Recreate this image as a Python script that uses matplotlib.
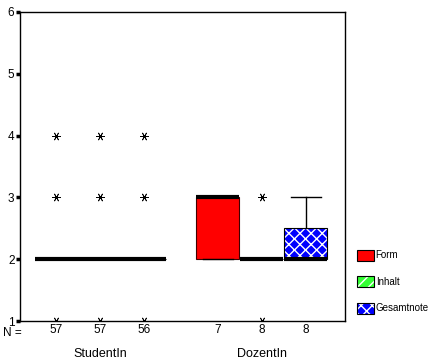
import matplotlib
matplotlib.use("Agg")
import matplotlib.pyplot as plt
from matplotlib.patches import Patch, PathPatch
from matplotlib.transforms import blended_transform_factory

plt.rcParams['font.family'] = ['Liberation Sans', 'DejaVu Sans']
plt.rcParams['hatch.linewidth'] = 1.0

gruppen = ["StudentIn", "DozentIn"]
variablen = ["Form", "Inhalt", "Gesamtnote"]
farben = ["#ff0000", "#33ff33", "#0000ff"]
muster = [None, "///", "xxx"]

# Kennwerte je Box: Gruppe x Variable
n_werte = [[57, 57, 56], [7, 8, 8]]
q1 = [[2, 2, 2], [2, 2, 2]]
median = [[2, 2, 2], [3, 2, 2]]
q3 = [[2, 2, 2], [3, 2, 2.5]]
whisker_lo = [[2, 2, 2], [2, 2, 2]]
whisker_hi = [[2, 2, 2], [3, 2, 3]]
extremwerte = [[[1, 3, 4], [1, 3, 4], [1, 3, 4]], [[], [1, 3], []]]

gruppen_mitte = [0, 3.68]
versatz = [-1, 0, 1]

fig = plt.figure(figsize=(4.32, 3.64), dpi=100)
ax = fig.add_axes([20 / 432, 1 - 321 / 364, 325 / 432, 309 / 364])

stats, positionen, n_labels = [], [], []
for g in range(len(gruppen)):
    for v in range(len(variablen)):
        stats.append(dict(med=median[g][v], q1=q1[g][v], q3=q3[g][v],
                          whislo=whisker_lo[g][v], whishi=whisker_hi[g][v],
                          fliers=extremwerte[g][v]))
        positionen.append(gruppen_mitte[g] + versatz[v])
        n_labels.append(str(n_werte[g][v]))

bp = ax.bxp(stats, positions=positionen, widths=0.98, patch_artist=True,
            showcaps=True,
            boxprops=dict(edgecolor="#400000", linewidth=0.8),
            medianprops=dict(color="black", linewidth=3, solid_capstyle="butt"),
            whiskerprops=dict(color="black", linewidth=1),
            capprops=dict(color="black", linewidth=1),
            capwidths=0.68,
            flierprops=dict(marker=(6, 2, 90), markersize=6,
                            markeredgecolor="black", markeredgewidth=0.6,
                            linestyle="none"))

for i, box in enumerate(bp["boxes"]):
    v = i % 3
    box.set_facecolor(farben[v])
    if muster[v]:
        box.set_hatch(muster[v])
        box.set_edgecolor("white")
        box.set_linewidth(0)
        ax.add_patch(PathPatch(box.get_path(), facecolor="none",
                               edgecolor="black", linewidth=0.8, zorder=2.1))

ax.set_xlim(-1.82, 5.57)
ax.set_ylim(1, 6)
ax.set_yticks([1, 2, 3, 4, 5, 6])
ax.tick_params(axis="y", length=3, width=2.5, pad=1, labelsize=8.5)
ax.set_xticks(positionen)
ax.set_xticklabels(n_labels)
ax.tick_params(axis="x", length=0, pad=2, labelsize=8.5)
for s in ax.spines.values():
    s.set_linewidth(1)

trans = blended_transform_factory(ax.transData, ax.transAxes)
ax.text(-0.022, -0.02, "N =", transform=ax.transAxes, ha="center", va="top",
        fontsize=8.5)
for g, name in enumerate(gruppen):
    ax.text(gruppen_mitte[g], -0.088, name, transform=trans, ha="center",
            va="top", fontsize=9)

handles = []
for v in range(3):
    if muster[v]:
        handles.append((Patch(facecolor=farben[v], edgecolor="white",
                              hatch=muster[v], linewidth=0),
                        Patch(facecolor="none", edgecolor="black", linewidth=0.8)))
    else:
        handles.append(Patch(facecolor=farben[v], edgecolor="black", linewidth=0.8))
leg = fig.legend(handles, variablen, loc="upper left",
                 bbox_to_anchor=(348 / 432, 1 - 241 / 364), frameon=False,
                 handlelength=1.75, handleheight=1.35, handletextpad=0.2,
                 labelspacing=1.6, fontsize=7)

fig.savefig("out.png", dpi=100)
